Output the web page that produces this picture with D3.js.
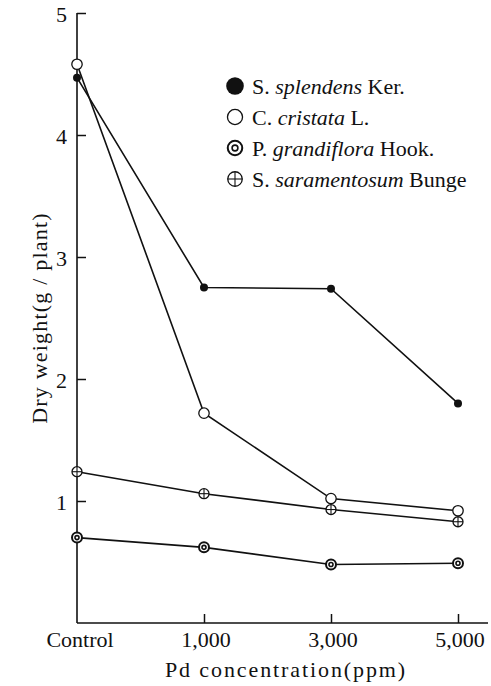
<!DOCTYPE html>
<html><head><meta charset="utf-8">
<script src="https://cdn.jsdelivr.net/npm/d3@7"></script>
<style>body{margin:0;background:#fff}svg{display:block}text{font-family:"Liberation Serif","DejaVu Serif",serif;fill:#111}</style>
</head><body>
<script>
const categories = ["Control", "1,000", "3,000", "5,000"];
const yTicks = [1, 2, 3, 4, 5];
const splendens = [4.47, 2.75, 2.74, 1.80];
const cristata = [4.58, 1.72, 1.02, 0.92];
const grandiflora = [0.70, 0.62, 0.48, 0.49];
const saramentosum = [1.24, 1.06, 0.93, 0.83];
const seriesNames = [
  ["S.", "splendens", "Ker."],
  ["C.", "cristata", "L."],
  ["P.", "grandiflora", "Hook."],
  ["S.", "saramentosum", "Bunge"]
];
const seriesTypes = ["filled", "open", "double", "plus"];
const seriesData = [splendens, cristata, grandiflora, saramentosum];

const W = 491, H = 686;
const svg = d3.select("body").append("svg").attr("width", W).attr("height", H);
const x = d3.scalePoint().domain(categories).range([77, 458]);
const y = d3.scaleLinear().domain([0, 5]).range([623, 13]);
const ink = "#111";

// axes
svg.append("line").attr("x1", 77).attr("x2", 77).attr("y1", y(5)).attr("y2", y(0)).attr("stroke", ink).attr("stroke-width", 1.6);
svg.append("line").attr("x1", 77).attr("x2", 488).attr("y1", y(0)).attr("y2", y(0)).attr("stroke", ink).attr("stroke-width", 1.6);

const yAxis = d3.axisRight(y).tickValues(yTicks).tickSize(9).tickFormat("");
const gy = svg.append("g").attr("transform", "translate(77,0)").call(yAxis);
gy.select(".domain").remove();
gy.selectAll(".tick line").attr("stroke", ink).attr("stroke-width", 1.5);
svg.append("g").selectAll("text").data(yTicks).join("text")
  .attr("x", 67).attr("y", d => y(d) + 1).attr("dy", "0.35em").attr("text-anchor", "end")
  .attr("font-size", 22).text(d => d);

const xAxis = d3.axisTop(x).tickSize(9).tickFormat("");
const gx = svg.append("g").attr("transform", `translate(0,${y(0)})`).call(xAxis);
gx.select(".domain").remove();
gx.selectAll(".tick line").attr("stroke", ink).attr("stroke-width", 1.5)
  .attr("display", d => d === "Control" ? "none" : null);
svg.append("g").selectAll("text").data(categories).join("text")
  .attr("x", d => x(d) + (d === "Control" ? 3 : 2)).attr("y", 647).attr("text-anchor", "middle")
  .attr("font-size", 22).text(d => d);

svg.append("text").attr("x", 286).attr("y", 677).attr("text-anchor", "middle")
  .attr("font-size", 22).attr("letter-spacing", 1.9).text("Pd concentration(ppm)");
svg.append("text").attr("transform", "translate(47,318) rotate(-90)").attr("text-anchor", "middle")
  .attr("font-size", 22).attr("letter-spacing", 1.2).text("Dry weight(g / plant)");

// lines
const line = d3.line().x((d, i) => x(categories[i])).y(d => y(d));
seriesData.forEach(s => {
  svg.append("path").attr("d", line(s)).attr("fill", "none").attr("stroke", ink).attr("stroke-width", 1.6);
});

function marker(g, type, cx, cy, scale) {
  const k = scale || 1;
  if (type === "filled") {
    g.append("circle").attr("cx", cx).attr("cy", cy).attr("r", 4 * k).attr("fill", ink);
  } else if (type === "open") {
    g.append("circle").attr("cx", cx).attr("cy", cy).attr("r", 5.2 * k).attr("fill", "#fff").attr("stroke", ink).attr("stroke-width", 1.3);
  } else if (type === "double") {
    g.append("circle").attr("cx", cx).attr("cy", cy).attr("r", 5 * k).attr("fill", "#fff").attr("stroke", ink).attr("stroke-width", 2);
    g.append("circle").attr("cx", cx).attr("cy", cy).attr("r", 2 * k).attr("fill", "none").attr("stroke", ink).attr("stroke-width", 1.6);
  } else {
    g.append("circle").attr("cx", cx).attr("cy", cy).attr("r", 5 * k).attr("fill", "#fff").attr("stroke", ink).attr("stroke-width", 1.3);
    g.append("line").attr("x1", cx - 5 * k).attr("x2", cx + 5 * k).attr("y1", cy).attr("y2", cy).attr("stroke", ink).attr("stroke-width", 1.1);
    g.append("line").attr("x1", cx).attr("x2", cx).attr("y1", cy - 5 * k).attr("y2", cy + 5 * k).attr("stroke", ink).attr("stroke-width", 1.1);
  }
}
const mg = svg.append("g");
seriesData.forEach((s, si) => {
  s.forEach((v, i) => marker(mg, seriesTypes[si], x(categories[i]), y(v)));
});

// legend
const lg = svg.append("g");
seriesNames.forEach((n, i) => {
  const ly = 86 + i * 31;
  marker(lg, seriesTypes[i], 235, ly, seriesTypes[i] === "filled" ? 2.2 : 1.45);
  const t = lg.append("text").attr("x", 252).attr("y", ly).attr("dy", "0.35em").attr("font-size", 22);
  t.append("tspan").text(n[0] + " ");
  t.append("tspan").attr("font-style", "italic").text(n[1]);
  t.append("tspan").text(" " + n[2]);
});
</script>
</body></html>
